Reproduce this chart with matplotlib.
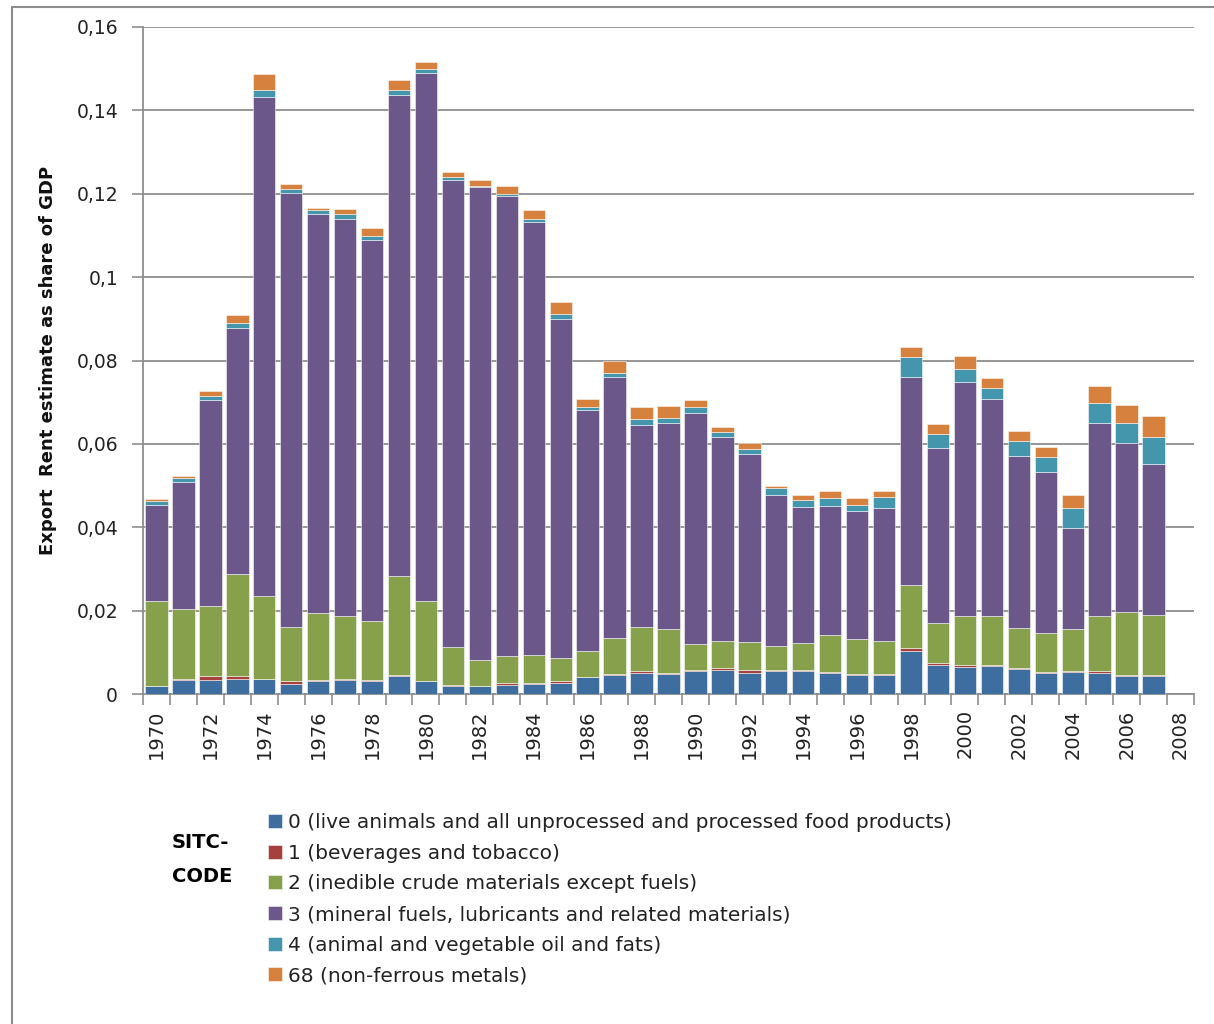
import matplotlib.pyplot as plt
from matplotlib.patches import Rectangle
from matplotlib.ticker import FuncFormatter
import numpy as np

# data (share of GDP per SITC code)
years = list(range(1970, 2008))
axis_years = list(range(1970, 2009))

sitc0 = [0.0018, 0.0033, 0.0033, 0.0035, 0.0035, 0.0025, 0.0030, 0.0033, 0.0030, 0.0042,
         0.0030, 0.0018, 0.0018, 0.0022, 0.0024, 0.0027, 0.0040, 0.0046, 0.0051, 0.0049,
         0.0055, 0.0058, 0.0051, 0.0055, 0.0055, 0.0050, 0.0046, 0.0046, 0.0102, 0.0070,
         0.0065, 0.0067, 0.0059, 0.0050, 0.0052, 0.0050, 0.0043, 0.0043]
sitc1 = [0.0000, 0.0003, 0.0009, 0.0007, 0.0001, 0.0005, 0.0003, 0.0003, 0.0003, 0.0004,
         0.0001, 0.0004, 0.0000, 0.0004, 0.0003, 0.0003, 0.0001, 0.0003, 0.0003, 0.0002,
         0.0003, 0.0004, 0.0007, 0.0003, 0.0003, 0.0003, 0.0003, 0.0003, 0.0008, 0.0004,
         0.0005, 0.0003, 0.0003, 0.0003, 0.0003, 0.0005, 0.0003, 0.0003]
sitc2 = [0.0205, 0.0168, 0.0169, 0.0247, 0.0200, 0.0131, 0.0162, 0.0150, 0.0141, 0.0236,
         0.0192, 0.0091, 0.0064, 0.0065, 0.0067, 0.0056, 0.0063, 0.0085, 0.0107, 0.0105,
         0.0061, 0.0066, 0.0067, 0.0058, 0.0064, 0.0088, 0.0082, 0.0077, 0.0151, 0.0097,
         0.0117, 0.0117, 0.0097, 0.0093, 0.0101, 0.0132, 0.0150, 0.0144]
sitc3 = [0.0230, 0.0305, 0.0494, 0.0588, 0.1195, 0.1040, 0.0956, 0.0953, 0.0916, 0.1155,
         0.1266, 0.1121, 0.1133, 0.1104, 0.1039, 0.0813, 0.0577, 0.0626, 0.0484, 0.0495,
         0.0556, 0.0489, 0.0451, 0.0361, 0.0326, 0.0310, 0.0308, 0.0319, 0.0500, 0.0418,
         0.0562, 0.0520, 0.0412, 0.0387, 0.0242, 0.0463, 0.0405, 0.0362]
sitc4 = [0.0010, 0.0010, 0.0011, 0.0013, 0.0019, 0.0011, 0.0010, 0.0012, 0.0009, 0.0013,
         0.0010, 0.0005, 0.0004, 0.0004, 0.0006, 0.0013, 0.0007, 0.0011, 0.0015, 0.0012,
         0.0013, 0.0011, 0.0012, 0.0016, 0.0017, 0.0018, 0.0015, 0.0028, 0.0047, 0.0034,
         0.0031, 0.0026, 0.0037, 0.0035, 0.0047, 0.0047, 0.0050, 0.0065]
sitc68 = [0.0004, 0.0005, 0.0012, 0.0018, 0.0037, 0.0011, 0.0006, 0.0012, 0.0018, 0.0024,
          0.0018, 0.0013, 0.0015, 0.0020, 0.0021, 0.0028, 0.0020, 0.0028, 0.0028, 0.0028,
          0.0018, 0.0013, 0.0013, 0.0007, 0.0013, 0.0019, 0.0015, 0.0015, 0.0024, 0.0025,
          0.0030, 0.0025, 0.0024, 0.0024, 0.0033, 0.0043, 0.0042, 0.0049]

series = [sitc0, sitc1, sitc2, sitc3, sitc4, sitc68]
labels = ["0 (live animals and all unprocessed and processed food products)",
          "1 (beverages and tobacco)",
          "2 (inedible crude materials except fuels)",
          "3 (mineral fuels, lubricants and related materials)",
          "4 (animal and vegetable oil and fats)",
          "68 (non-ferrous metals)"]
colours = ["#3E6D9F", "#A5403C", "#87A04B", "#6C578B", "#4496AC", "#D7813E"]

fig = plt.figure(figsize=(12.14, 10.24), dpi=100)
ax = fig.add_axes([143 / 1214, 1 - 694 / 1024, (1194 - 143) / 1214, (694 - 27) / 1024])

# outer chart frame
fig.patches.append(Rectangle((12 / 1214, -0.01), 1.1, 1 - 7 / 1024 + 0.01, transform=fig.transFigure,
                             fill=False, edgecolor="#8C8C8C", linewidth=1.5))

x = np.arange(len(years))
bottom = np.zeros(len(years))
handles = []
for vals, lab, col in zip(series, labels, colours):
    b = ax.bar(x, vals, width=0.83, bottom=bottom, color=col, edgecolor=(1, 1, 1, 0.6),
               linewidth=0.6, label=lab, zorder=3)
    handles.append(b)
    bottom += np.array(vals)

# axes styling
ax.set_xlim(-0.5, len(axis_years) - 0.5)
ax.set_ylim(0, 0.16)
ax.set_yticks(np.arange(0, 0.161, 0.02))
ax.yaxis.set_major_formatter(FuncFormatter(lambda v, p: ("%g" % round(v, 2)).replace(".", ",")))
ax.grid(axis="y", color="#8E8E8E", linewidth=1.3, zorder=0)
for s in ["top", "right"]:
    ax.spines[s].set_visible(False)
for s in ["left", "bottom"]:
    ax.spines[s].set_color("#8E8E8E")
    ax.spines[s].set_linewidth(1.3)

tick_pos = np.arange(0, len(axis_years), 2)
ax.set_xticks(tick_pos)
ax.set_xticklabels([str(axis_years[i]) for i in tick_pos], rotation=90)
ax.set_xticks(np.arange(-0.5, len(axis_years), 1), minor=True)
ax.tick_params(axis="x", which="major", length=0, pad=11, labelsize=14, labelcolor="#222222")
ax.tick_params(axis="x", which="minor", length=8, color="#8E8E8E", width=1.2)
ax.tick_params(axis="y", length=8, color="#8E8E8E", width=1.2, labelsize=13.5,
               labelcolor="#222222", pad=10)

ax.set_ylabel("Export  Rent estimate as share of GDP", fontsize=13, fontweight="bold",
              color="#111111", labelpad=14)

# legend
fig.text(172 / 1214, 1 - 842 / 1024, "SITC-", fontsize=14, fontweight="bold", va="center")
fig.text(172 / 1214, 1 - 876 / 1024, "CODE", fontsize=14, fontweight="bold", va="center")
fig.legend(handles=handles, labels=labels, loc="upper left",
           bbox_to_anchor=(260 / 1214, 1 - 805 / 1024), frameon=False, fontsize=14.5,
           handlelength=0.7, handleheight=0.7, handletextpad=0.3, labelspacing=0.58,
           borderaxespad=0, labelcolor="#222222")

fig.savefig("out.png", dpi=100)
